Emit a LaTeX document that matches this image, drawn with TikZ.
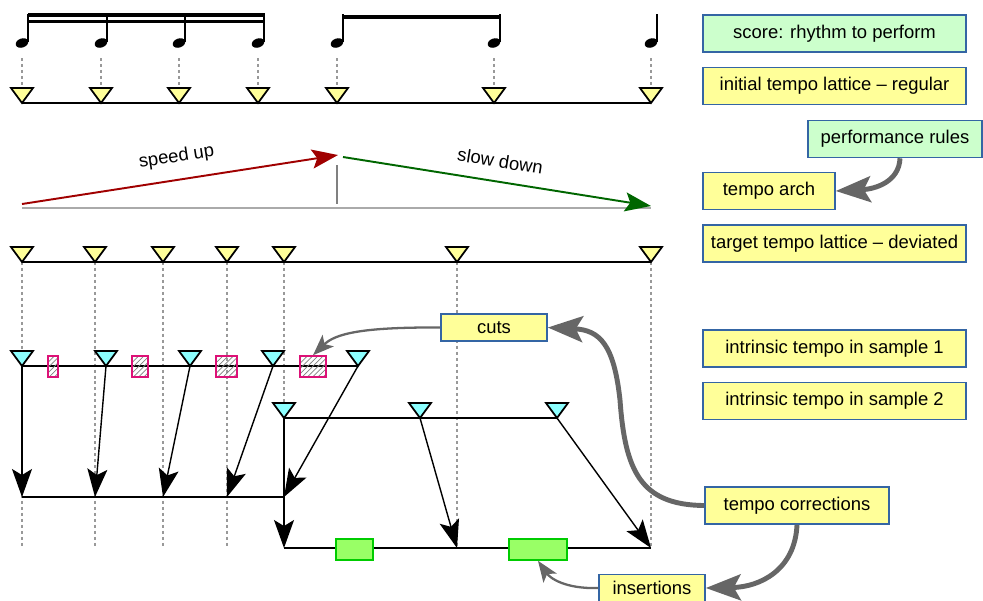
\documentclass[tikz,border=0pt]{standalone}
\usepackage{fontspec}
\setmainfont{Liberation Sans}
\usetikzlibrary{arrows.meta,patterns}

\definecolor{boxyellow}{HTML}{FFFF99}
\definecolor{boxgreen}{HTML}{CCFFCC}
\definecolor{boxblue}{HTML}{3465A4}
\definecolor{tickcyan}{HTML}{8CFFFF}
\definecolor{cutpink}{HTML}{DD1177}
\definecolor{gapgreen}{HTML}{99FF66}
\definecolor{gapedge}{HTML}{00CC00}
\definecolor{arrowgray}{HTML}{666666}
\definecolor{archgray}{HTML}{AAAAAA}
\definecolor{speedred}{HTML}{A00000}
\definecolor{slowgreen}{HTML}{006600}

\tikzset{
  pics/tick/.style={code={\draw[line width=1pt, fill=#1] (-11,-15) -- (11,-15) -- (0,0) -- cycle;}},
  guideline/.style={draw=gray!80, dash pattern=on 1.7pt off 1.7pt, line width=0.7pt},
  latticeline/.style={line width=1.1pt},
  legendbox/.style={draw=boxblue, line width=0.9pt, fill=boxyellow, minimum height=0.74cm, inner sep=0pt},
  rulebox/.style={legendbox, fill=boxgreen},
  tagbox/.style={legendbox, minimum height=0.54cm},
  cutbox/.style={draw=cutpink, line width=0.9pt, pattern=north east lines, pattern color=gray, minimum height=0.42cm, inner sep=0pt},
  gapbox/.style={draw=gapedge, fill=gapgreen, line width=0.9pt, minimum height=0.42cm, inner sep=0pt},
  shiftarrow/.style={line width=0.8pt, -{Stealth[length=0.56cm,width=0.4cm,inset=0.12cm]}},
  feedarrow/.style={draw=arrowgray, line width=2.8pt, -{Stealth[length=0.7cm,width=0.52cm,inset=0.14cm]}},
  hintarrow/.style={draw=arrowgray, line width=1.3pt, -{Stealth[length=0.42cm,width=0.32cm,inset=0.1cm]}},
  archarrow/.style={line width=1.1pt, -{Stealth[length=0.52cm,width=0.38cm,inset=0.1cm]}},
}

\begin{document}
\begin{tikzpicture}[x=0.02cm, y=-0.02cm, font=\fontsize{10.5}{12}\selectfont]
    \useasboundingbox (0,0) rectangle (983,600);

    % score and regular lattice
    \foreach \x [count=\i] in {22,101,179,258,337,494,651} {
        \fill[rotate around={20:(\x,43)}] (\x,43) ellipse (6.5 and 4.5);
        \draw[line width=0.85pt] (\x+6,42) -- (\x+6,14);
        \draw[guideline] (\x,58) -- (\x,85);
        \coordinate (r\i) at (\x,103);
    }
    \fill (27.5,13) rectangle (264.5,17);
    \fill (27.5,20) rectangle (264.5,23);
    \fill (342.5,15) rectangle (500.5,19);
    \draw[latticeline] (r1) -- (r7);
    \foreach \i in {1,...,7} \pic at (r\i) {tick=boxyellow};

    % tempo arch
    \coordinate (a0) at (22,208);
    \coordinate (a1) at (651,208);
    \draw[archgray, line width=1.2pt] (a0) -- (a1);
    \draw[gray, line width=0.7pt] (337,165) -- (337,204);
    \draw[archarrow, speedred] (22,204) -- node[sloped, above=4pt, black] {speed up} (338,155);
    \draw[archarrow, slowgreen] (343,157) -- node[sloped, above=4pt, black] {slow down} (651,206);

    % target lattice
    \foreach \x [count=\i] in {22,95,163,227,284,457,651} \coordinate (g\i) at (\x,262);
    \foreach \i in {1,2,3,4,6,7} \draw[guideline] (g\i) -- ++(0,286);
    \draw[guideline] (g5) -- ++(0,156);
    \draw[latticeline] (g1) -- (g7);
    \foreach \i in {1,...,7} \pic at (g\i) {tick=boxyellow};

    % samples and corrected lattices
    \foreach \x [count=\i] in {22,106,190,273,358} \coordinate (s\i) at (\x,366);
    \foreach \x [count=\i] in {284,420,557} \coordinate (t\i) at (\x,418);
    \foreach \x [count=\i] in {22,95,163,227,284} \coordinate (u\i) at (\x,497);
    \foreach \x [count=\i] in {284,457,651} \coordinate (v\i) at (\x,548);
    \draw[latticeline] (s1) -- (s5);
    \draw[latticeline] (t1) -- (t3);
    \draw[latticeline] (u1) -- (u5);
    \draw[latticeline] (v1) -- (v3);
    \foreach \i in {1,...,5} \draw[shiftarrow] (s\i) -- (u\i);
    \foreach \i in {1,2,3} \draw[shiftarrow] (t\i) -- (v\i);
    \foreach \x/\w [count=\i] in {53/0.2,140/0.32,226.5/0.42,313/0.52}
        \node[cutbox, minimum width=\w cm] (cut\i) at (\x,366.5) {};
    \node[gapbox, minimum width=0.74cm] (gap1) at (354.5,549.5) {};
    \node[gapbox, minimum width=1.16cm] (gap2) at (538,549.5) {};
    \foreach \i in {1,...,5} \pic at (s\i) {tick=tickcyan};
    \foreach \i in {1,2,3} \pic at (t\i) {tick=tickcyan};

    % legend
    \node[rulebox, minimum width=5.26cm] (score) at (834.5,33.5) {score: rhythm to perform};
    \node[legendbox, minimum width=5.26cm] (initial) at (834.5,86) {initial tempo lattice – regular};
    \node[rulebox, minimum width=3.48cm] (rules) at (895,139) {performance rules};
    \node[legendbox, minimum width=2.64cm] (arch) at (769,191) {tempo arch};
    \node[legendbox, minimum width=5.26cm] (target) at (834.5,243.5) {target tempo lattice – deviated};
    \node[legendbox, minimum width=5.26cm] (sampleA) at (834.5,348.5) {intrinsic tempo in sample 1};
    \node[legendbox, minimum width=5.26cm] (sampleB) at (834.5,401) {intrinsic tempo in sample 2};
    \node[legendbox, minimum width=3.68cm] (corr) at (797,505.5) {tempo corrections};
    \node[tagbox, minimum width=2.12cm] (cuts) at (494,327.5) {cuts};
    \node[tagbox, minimum width=2.12cm] (ins) at (652,588) {insertions};

    % connectors
    \draw[feedarrow] ([xshift=0.1cm]rules.south) .. controls (899,182) and (875,189) .. (arch.east);
    \draw[hintarrow] (cuts.west) .. controls (360,327) and (335,334) .. (cut4.north);
    \draw[feedarrow] (corr.west) .. controls (640,505) and (625,470) .. (620,400)
        .. controls (614,345) and (600,330) .. (cuts.east);
    \draw[feedarrow] (corr.south) .. controls (795,570) and (760,587) .. (ins.east);
    \draw[hintarrow] (ins.west) .. controls (565,589) and (550,578) .. (gap2.south);
\end{tikzpicture}
\end{document}
